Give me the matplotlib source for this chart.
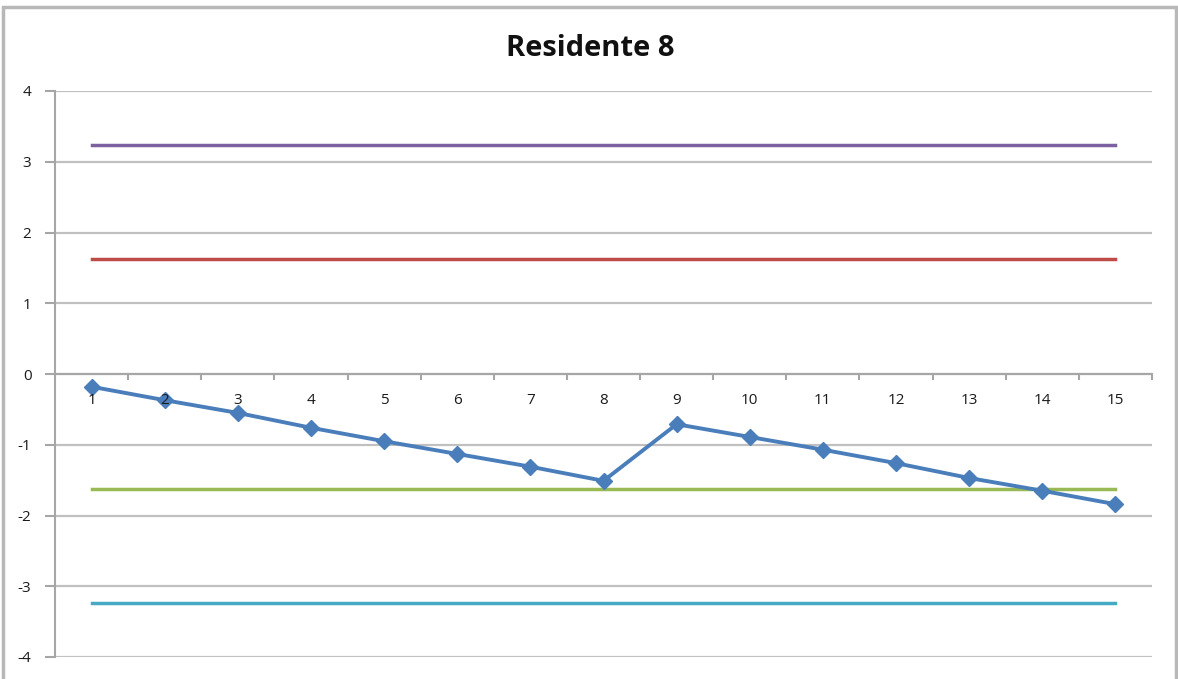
import matplotlib.pyplot as plt
from matplotlib.patches import Rectangle
import numpy as np

# data
sessions = list(range(1, 16))
residente = [-0.18, -0.37, -0.55, -0.76, -0.95, -1.13, -1.31, -1.51,
             -0.71, -0.89, -1.07, -1.26, -1.47, -1.65, -1.84]
limite_sup_2 = [3.24] * 15
limite_sup_1 = [1.62] * 15
limite_inf_1 = [-1.62] * 15
limite_inf_2 = [-3.24] * 15

plt.rcParams['font.family'] = ['Open Sans', 'DejaVu Sans']
plt.rcParams['axes.unicode_minus'] = False

fig = plt.figure(figsize=(11.78, 6.79), dpi=100)
fig.patches.append(Rectangle((3 / 1178, -0.05), 1173 / 1178, 1.05 - 7 / 679,
                             transform=fig.transFigure, fill=False,
                             edgecolor='#b8b8b8', linewidth=2.5))
ax = fig.add_axes([55 / 1178, 22 / 679, 1097 / 1178, 566 / 679])

ax.plot(sessions, limite_sup_2, color='#7d60a0', linewidth=2.5)
ax.plot(sessions, limite_sup_1, color='#be4b48', linewidth=2.5)
ax.plot(sessions, limite_inf_1, color='#98b954', linewidth=2.5)
ax.plot(sessions, limite_inf_2, color='#46aac5', linewidth=2.5)
ax.plot(sessions, residente, color='#4a7ebb', linewidth=2.8,
        marker='D', markersize=8, zorder=5)

ax.set_xlim(0.5, 15.5)
ax.set_ylim(-4, 4)
ax.set_yticks(range(-4, 5))
ax.set_xticks(sessions)
ax.set_xticks(np.arange(1.5, 15.6, 1), minor=True)
ax.tick_params(axis='x', which='major', length=0, pad=14,
               labelsize=11, labelcolor='#1a1a1a')
ax.tick_params(axis='x', which='minor', length=4, width=1.5,
               color='#a6a6a6', direction='out')
ax.tick_params(axis='y', length=7, width=1.5, color='#a6a6a6',
               labelsize=11, labelcolor='#1a1a1a', pad=10)

ax.grid(axis='y', color='#c0c0c0', linewidth=1.6)
ax.set_axisbelow(True)
# category labels sit on top of the data line, like in Excel
ax.xaxis.set_zorder(10)
for s in ['top', 'right']:
    ax.spines[s].set_visible(False)
ax.spines['bottom'].set_position(('data', 0))
ax.spines['bottom'].set_color('#a6a6a6')
ax.spines['bottom'].set_linewidth(1.5)
ax.spines['left'].set_color('#a6a6a6')
ax.spines['left'].set_linewidth(1.5)

fig.text(590 / 1178, 1 - 49 / 679, 'Residente 8', ha='center', va='center',
         fontsize=21, fontweight='bold', color='#111111')

fig.savefig('out.png', dpi=100)
